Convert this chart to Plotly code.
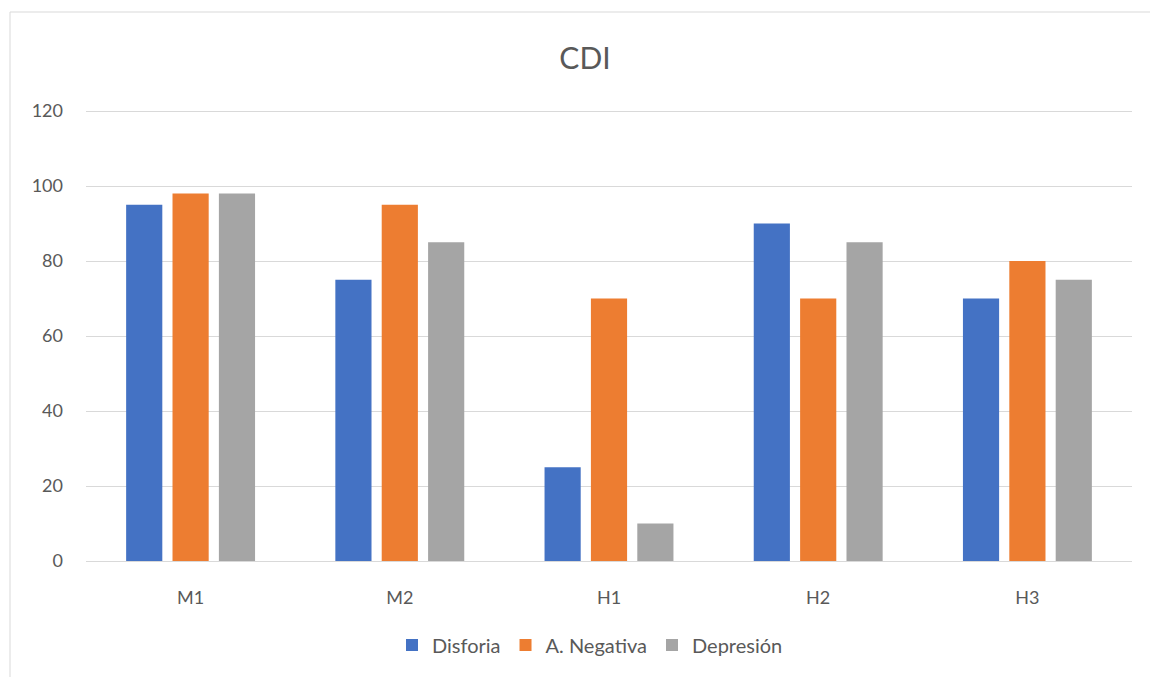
import plotly.graph_objects as go

categories = ["M1", "M2", "H1", "H2", "H3"]
disforia = [95, 75, 25, 90, 70]
a_negativa = [98, 95, 70, 70, 80]
depresion = [98, 85, 10, 85, 75]

series = [
    ("Disforia", disforia, "#4472C4"),
    ("A. Negativa", a_negativa, "#ED7D31"),
    ("Depresión", depresion, "#A5A5A5"),
]

fig = go.Figure()
for name, vals, col in series:
    fig.add_trace(go.Bar(name=name, x=categories, y=vals, marker_color=col,
                         marker_line_width=0))

W, H = 1150, 677
L, R, T, B = 86, 18, 110, 116
pw, ph = W - L - R, H - T - B

def px(x):
    return (x - L) / pw

def py(y):
    return (H - B - y) / ph

fig.update_layout(
    width=W, height=H,
    margin=dict(l=L, r=R, t=T, b=B),
    paper_bgcolor="white", plot_bgcolor="white",
    font=dict(family="Lato, Carlito, sans-serif", size=18, color="#595959"),
    title=dict(text="CDI", xref="container", x=585 / W, xanchor="center",
               y=1 - 58 / H, yanchor="middle",
               font=dict(size=30, color="#595959")),
    barmode="group", bargap=0.335, bargroupgap=0.22,
    showlegend=True,
    legend=dict(orientation="h", x=px(590), xanchor="center", y=py(645), yanchor="middle",
                font=dict(size=20, color="#595959"), itemwidth=30),
    xaxis=dict(showgrid=False, showline=False, ticks="", ticklabelstandoff=24,
               tickfont=dict(size=18)),
    yaxis=dict(range=[0, 120.3], tickvals=[0, 20, 40, 60, 80, 100, 120], showgrid=True,
               gridcolor="#D9D9D9",
               gridwidth=1, zeroline=True, zerolinecolor="#D9D9D9", zerolinewidth=1,
               showline=False, ticks="", ticklabelstandoff=22, tickfont=dict(size=18)),
    shapes=[dict(type="rect", xref="paper", yref="paper",
                 x0=px(10), x1=px(1170), y0=py(700), y1=py(12),
                 line=dict(color="#D9D9D9", width=1), fillcolor="rgba(0,0,0,0)",
                 layer="below")],
)

fig.write_html("out.html", config={"displayModeBar": False},
               post_script="document.body.style.margin='0';")
